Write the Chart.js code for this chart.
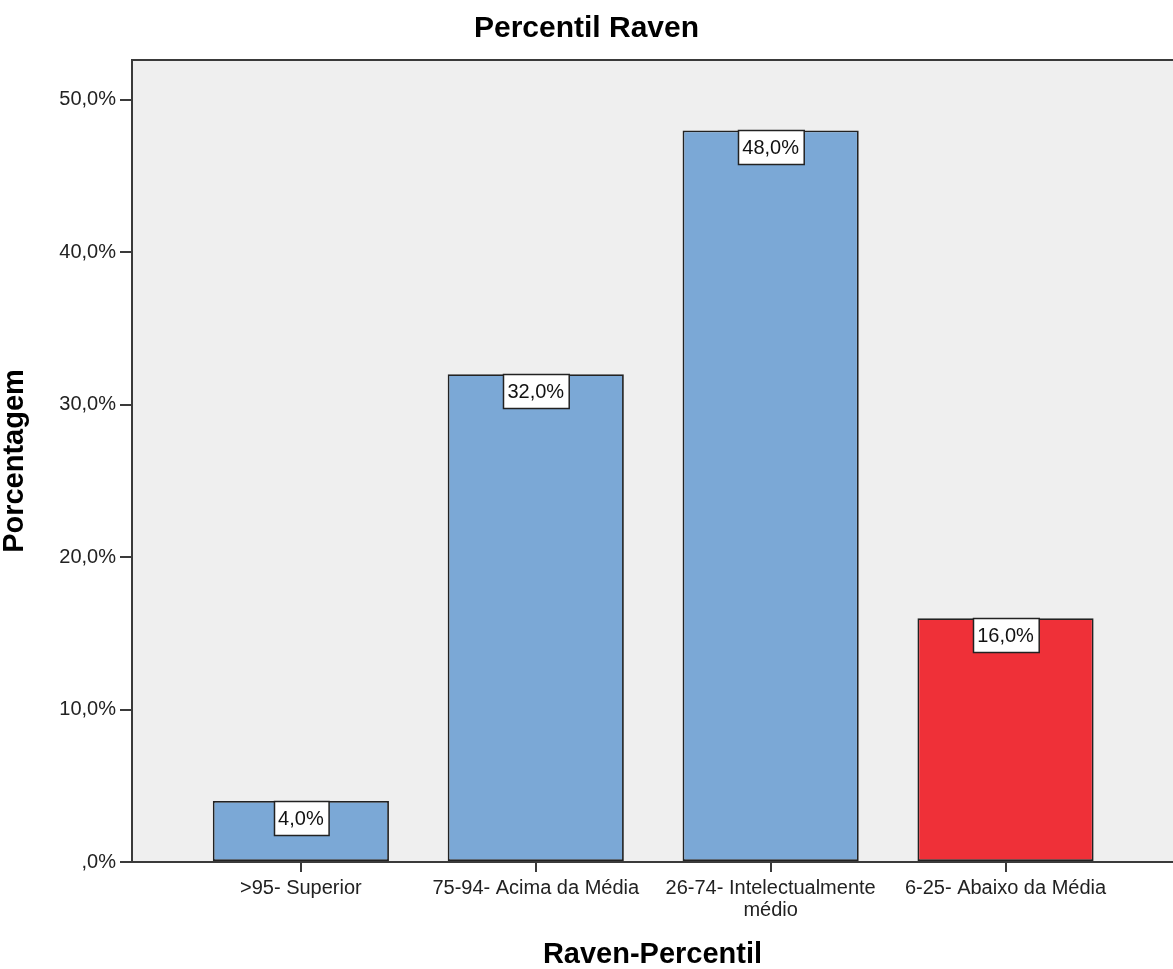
<!DOCTYPE html>
<html>
<head>
<meta charset="utf-8">
<title>Percentil Raven</title>
<script src="https://cdn.jsdelivr.net/npm/chart.js@4/dist/chart.umd.min.js"></script>
<style>
  html, body { margin: 0; padding: 0; background: #fff; }
  #chart { display: block; }
</style>
</head>
<body>
<canvas id="chart" width="1173" height="969"></canvas>
<script>
// data
const categories = ['>95- Superior', '75-94- Acima da Média', ['26-74- Intelectualmente', 'médio'], '6-25- Abaixo da Média'];
const percentages = [4.0, 32.0, 48.0, 16.0];
const barColors = ['#7ba8d6', '#7ba8d6', '#7ba8d6', '#ef3038'];
const yTicks = [0, 10, 20, 30, 40, 50];
const yTickLabels = [',0%', '10,0%', '20,0%', '30,0%', '40,0%', '50,0%'];
const xTicks = [1, 2, 3, 4];

const FONT = '"Liberation Sans", Arial, sans-serif';

function pctLabel(v){ return v.toFixed(1).replace('.', ',') + '%'; }

// grey plot background + top frame line
const plotFrame = {
  id: 'plotFrame',
  beforeDraw(chart){
    const {ctx, chartArea: a} = chart;
    ctx.save();
    ctx.fillStyle = '#efefef';
    ctx.fillRect(a.left, a.top, a.right - a.left, a.bottom - a.top);
    ctx.strokeStyle = '#3a3a3a';
    ctx.lineWidth = 2;
    ctx.beginPath();
    ctx.moveTo(a.left, a.top);
    ctx.lineTo(a.right, a.top);
    ctx.stroke();
    ctx.restore();
  }
};

// white boxed value labels hanging from the top of each bar
const boxLabels = {
  id: 'boxLabels',
  afterDatasetsDraw(chart){
    const ctx = chart.ctx;
    const meta = chart.getDatasetMeta(0);
    ctx.save();
    ctx.font = '20px ' + FONT;
    ctx.textAlign = 'center';
    ctx.textBaseline = 'middle';
    meta.data.forEach((bar, i)=>{
      const txt = pctLabel(percentages[i]);
      const w = ctx.measureText(txt).width + 9;
      const h = 34;
      const x = Math.round(bar.x - w / 2) + 0.5;
      const y = Math.round(bar.y) + 0.5;
      ctx.fillStyle = '#fff';
      ctx.fillRect(x, y, w, h);
      ctx.strokeStyle = '#222';
      ctx.lineWidth = 1.5;
      ctx.strokeRect(x, y, w, h);
      ctx.fillStyle = '#111';
      ctx.fillText(txt, bar.x, y + h / 2 + 1);
    });
    ctx.restore();
  }
};

const ctx = document.getElementById('chart').getContext('2d');
new Chart(ctx, {
  type: 'bar',
  data: {
    datasets: [{
      data: percentages.map((v, i)=>({x: xTicks[i], y: v})),
      backgroundColor: barColors,
      borderColor: '#222',
      borderWidth: 1.8,
      borderSkipped: false,
      barPercentage: 0.75,
      categoryPercentage: 1
    }]
  },
  options: {
    responsive: false,
    animation: false,
    layout: { padding: 0 },
    plugins: {
      legend: { display: false },
      tooltip: { enabled: false },
      title: {
        display: true,
        text: 'Percentil Raven',
        color: '#000',
        font: { family: FONT, size: 30, weight: 'bold', lineHeight: 1.2 },
        padding: { top: 11, bottom: 13 }
      }
    },
    scales: {
      x: {
        type: 'linear',
        offset: false,
        min: 0.281,
        max: 4.713,
        afterBuildTicks: s=>{ s.ticks = xTicks.map(v=>({value: v})); },
        afterFit: s=>{ s.height = 107; },
        grid: { display: true, offset: false, drawOnChartArea: false, drawTicks: true, tickLength: 10, color: '#3a3a3a', lineWidth: 2 },
        border: { display: true, color: '#3a3a3a', width: 2 },
        ticks: {
          autoSkip: false,
          maxRotation: 0,
          minRotation: 0,
          padding: 5,
          color: '#222',
          font: { family: FONT, size: 20, lineHeight: 1.1 },
          callback: (v)=>categories[xTicks.indexOf(v)]
        },
        title: {
          display: true,
          text: 'Raven-Percentil',
          color: '#000',
          font: { family: FONT, size: 29, weight: 'bold', lineHeight: 1.0 },
          padding: { top: 0, bottom: 0 }
        }
      },
      y: {
        min: 0,
        max: 52.62,
        afterBuildTicks: s=>{ s.ticks = yTicks.map(v=>({value: v})); },
        afterFit: s=>{ s.width = 132; },
        grid: { display: true, drawOnChartArea: false, drawTicks: true, tickLength: 12, color: '#3a3a3a', lineWidth: 2 },
        border: { display: true, color: '#3a3a3a', width: 2 },
        ticks: {
          padding: 4,
          color: '#222',
          font: { family: FONT, size: 20 },
          callback: (v)=>yTickLabels[yTicks.indexOf(v)]
        },
        title: {
          display: true,
          text: 'Porcentagem',
          color: '#000',
          font: { family: FONT, size: 29, weight: 'bold', lineHeight: 1.0 },
          padding: { top: 0, bottom: 0 }
        }
      }
    }
  },
  plugins: [plotFrame, boxLabels]
});
</script>
</body>
</html>
